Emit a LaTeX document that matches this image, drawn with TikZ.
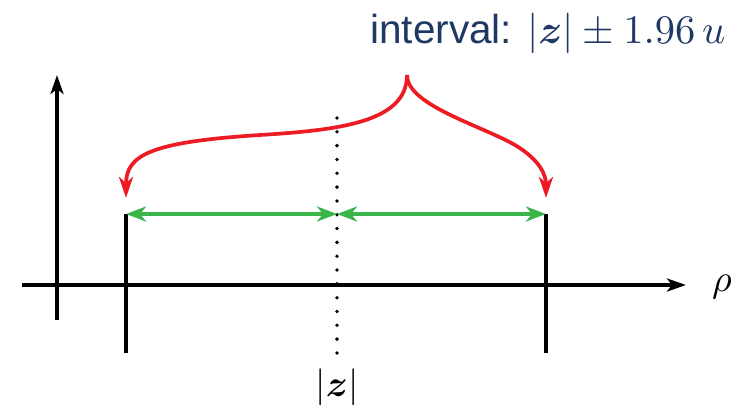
\documentclass[tikz,border=0pt]{standalone}
\usepackage{amsmath}
\usepackage{fontspec}
\setsansfont{Liberation Sans}
\usetikzlibrary{arrows.meta}
\definecolor{navy}{RGB}{31,56,100}
\definecolor{bred}{RGB}{237,28,36}
\definecolor{bgreen}{RGB}{57,181,74}
\tikzset{
  axis/.style={line width=3.7pt, -{Stealth[length=19pt,width=13pt,inset=5pt]}},
  tick/.style={line width=3.7pt},
  span/.style={bgreen, line width=3.7pt, {Stealth[length=20pt,width=15pt,inset=6pt]}-{Stealth[length=20pt,width=15pt,inset=6pt]}},
  brace/.style={bred, line width=3.7pt, -{Stealth[length=21pt,width=14pt,inset=6pt]}},
  dots/.style={line width=3.8pt, line cap=round, dash pattern=on 0pt off 13.82pt},
  big/.style={font=\fontsize{10}{12}\selectfont, scale=#1}
}
\begin{document}
\begin{tikzpicture}[x=1pt,y=-1pt]
\useasboundingbox (0,0) rectangle (737,408);
% coordinates
\coordinate (xa) at (22,285);
\coordinate (xb) at (686,285);
\coordinate (ya) at (57,320);
\coordinate (yb) at (57,75);
\coordinate (lt) at (126,214);
\coordinate (lb) at (126,353);
\coordinate (rt) at (546,214);
\coordinate (rb) at (546,353);
\coordinate (mt) at (337,118);
\coordinate (mb) at (337,353);
\coordinate (mm) at (337,214);
\coordinate (top) at (407,75);
\coordinate (lend) at (126,198);
\coordinate (rend) at (546,198);
% axes
\draw[axis] (xa) -- (xb);
\draw[axis] (ya) -- (yb);
\node[big=3.8, anchor=center, inner sep=0pt] (rho) at (722,287) {$\rho$};
% bounds
\draw[tick] (lt) -- (lb);
\draw[tick] (rt) -- (rb);
\draw[dots] (mt) -- (mb);
\node[big=3.7, anchor=center, inner sep=0pt] (zl) at (337,387) {$|\boldsymbol{z}|$};
% green spans
\draw[span] (lt) -- (mm);
\draw[span] (mm) -- (rt);
% red brace
\draw[brace] (top) .. controls (407,122) and (340,130) .. (260,135)
  .. controls (150,142) and (126,155) .. (lend);
\draw[brace] (top) .. controls (407,105) and (480,125) .. (515,145)
  .. controls (540,160) and (546,175) .. (rend);
% label
\node[navy, big=4.05, anchor=base east, inner sep=0pt] (lab) at (726,43)
  {\sffamily interval: $|\boldsymbol{z}| \pm 1.96\,u$};
\end{tikzpicture}
\end{document}
